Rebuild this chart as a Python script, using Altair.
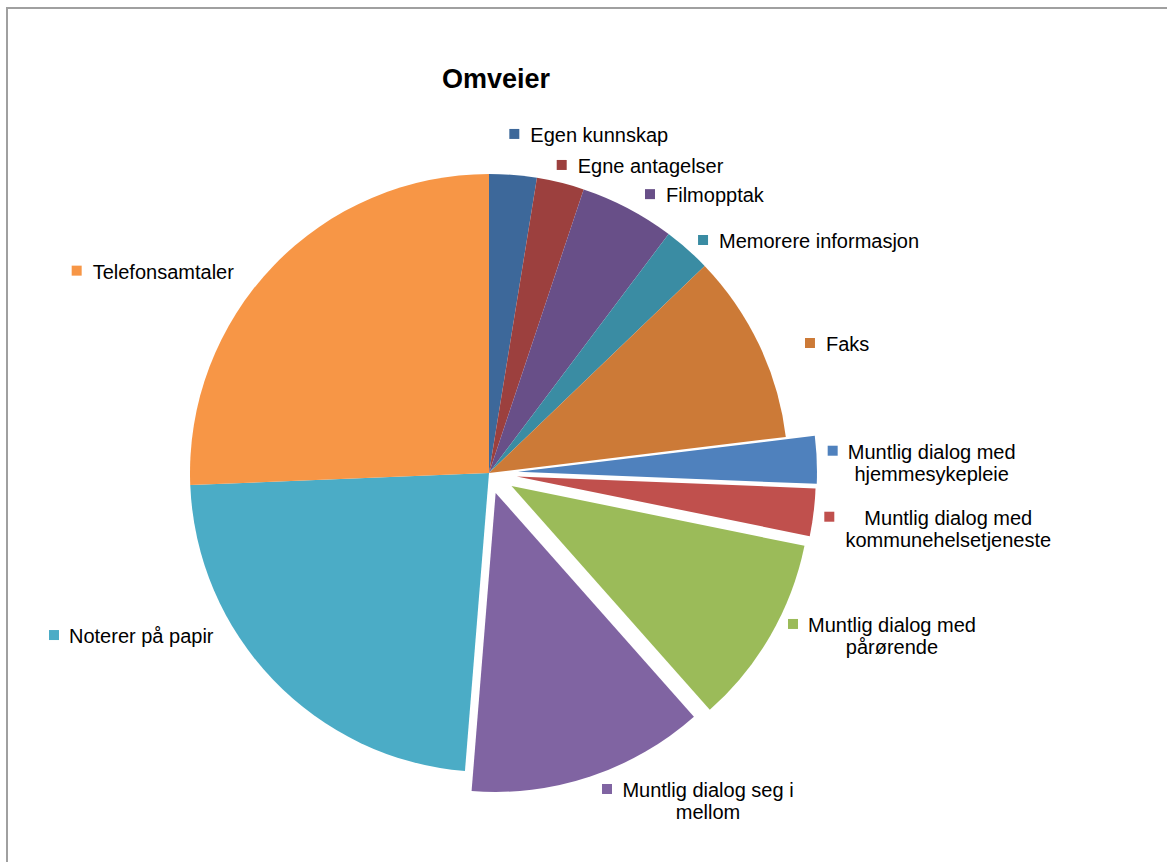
import altair as alt
import pandas as pd

# ---- data ----
categories = [
    "Egen kunnskap", "Egne antagelser", "Filmopptak", "Memorere informasjon", "Faks",
    "Muntlig dialog med hjemmesykepleie", "Muntlig dialog med kommunehelsetjeneste",
    "Muntlig dialog med pårørende", "Muntlig dialog seg i mellom",
    "Noterer på papir", "Telefonsamtaler",
]
values = [1, 1, 2, 1, 4, 1, 1, 4, 5, 9, 10]
label_texts = [
    "Egen kunnskap", "Egne antagelser", "Filmopptak", "Memorere informasjon", "Faks",
    "Muntlig dialog med\nhjemmesykepleie", "Muntlig dialog med\nkommunehelsetjeneste",
    "Muntlig dialog med\npårørende", "Muntlig dialog seg i\nmellom",
    "Noterer på papir", "Telefonsamtaler",
]
colors = [
    "#3d689a", "#9c403e", "#684f88", "#3a8ca3", "#cc7a37",
    "#4f81bd", "#c0504d", "#9bbb59", "#8064a2", "#4bacc6", "#f79646",
]

# ---- styling / layout ----
CX, CY, R = 489, 473, 299
explode = {  # pixels each slice is pulled out
    "Muntlig dialog med hjemmesykepleie": 29,
    "Muntlig dialog med kommunehelsetjeneste": 28,
    "Muntlig dialog med pårørende": 26,
    "Muntlig dialog seg i mellom": 21,
}
# label marker placement: (angle in degrees clockwise from top, radius, text offset)
label_layout = {
    "Egen kunnskap": (4.27, 340, 16),
    "Egne antagelser": (13.28, 316.5, 16),
    "Filmopptak": (30.0, 322, 16),
    "Memorere informasjon": (42.57, 316.4, 16),
    "Faks": (67.95, 346.3, 16),
    "Muntlig dialog med hjemmesykepleie": (86.29, 344.4, 99),
    "Muntlig dialog med kommunehelsetjeneste": (97.32, 343.1, 119),
    "Muntlig dialog med pårørende": (116.41, 339.4, 99),
    "Muntlig dialog seg i mellom": (159.52, 337.3, 101),
    "Noterer på papir": (249.57, 464.2, 15),
    "Telefonsamtaler": (296.14, 459.3, 16),
}

FONT = "Liberation Sans"
FS = 20

df = pd.DataFrame({
    "order": list(range(len(categories))),
    "category": categories,
    "value": values,
    "label": label_texts,
    "explode": [explode.get(c, 0) for c in categories],
    "la": [label_layout[c][0] for c in categories],
    "lr": [label_layout[c][1] for c in categories],
    "tdx": [label_layout[c][2] for c in categories],
    "multi": ["\n" in t for t in label_texts],
})

color = alt.Color("category:N", scale=alt.Scale(domain=categories, range=colors), legend=None)

base = (
    alt.Chart(df)
    .transform_window(cum="sum(value)", sort=[{"field": "order"}], frame=[None, 0])
    .transform_joinaggregate(total="sum(value)")
    .transform_calculate(
        a0="2*PI*(datum.cum-datum.value)/datum.total",
        a1="2*PI*datum.cum/datum.total",
    )
    .transform_calculate(mid="(datum.a0+datum.a1)/2")
    .transform_calculate(
        cx=f"{CX}+datum.explode*sin(datum.mid)",
        cy=f"{CY}-datum.explode*cos(datum.mid)",
        mx=f"{CX}+datum.lr*sin(datum.la*PI/180)",
        my=f"{CY}-datum.lr*cos(datum.la*PI/180)",
    )
    .transform_calculate(tx="datum.mx+datum.tdx", ty="datum.my+8")
)

arcs = base.mark_arc(radius=R).encode(
    x=alt.X("cx:Q", scale=None, axis=None),
    y=alt.Y("cy:Q", scale=None, axis=None),
    theta=alt.Theta("a0:Q", scale=None, stack=None),
    theta2="a1:Q",
    color=color,
)

markers = base.mark_square(size=100, opacity=1).encode(
    x=alt.X("mx:Q", scale=None, axis=None),
    y=alt.Y("my:Q", scale=None, axis=None),
    color=color,
)

single = base.transform_filter("!datum.multi").mark_text(
    align="left", baseline="alphabetic", font=FONT, fontSize=FS, color="#000000"
).encode(
    x=alt.X("tx:Q", scale=None, axis=None),
    y=alt.Y("ty:Q", scale=None, axis=None),
    text="label:N",
)

multi = base.transform_filter("datum.multi").mark_text(
    align="center", baseline="alphabetic", font=FONT, fontSize=FS, color="#000000",
    lineBreak="\n", lineHeight=22,
).encode(
    x=alt.X("tx:Q", scale=None, axis=None),
    y=alt.Y("ty:Q", scale=None, axis=None),
    text="label:N",
)

title = alt.Chart(pd.DataFrame({"t": ["Omveier"]})).mark_text(
    align="center", baseline="alphabetic", font=FONT, fontSize=27, fontWeight="bold", color="#000000"
).encode(x=alt.value(496), y=alt.value(88), text="t:N")

border = alt.Chart(pd.DataFrame({"k": [0]})).mark_rect(
    fill="#ffffff", fillOpacity=0, stroke="#a0a0a0", strokeWidth=2
).encode(x=alt.value(7), y=alt.value(8), x2=alt.value(1180), y2=alt.value(880))

chart = (
    alt.layer(border, arcs, markers, single, multi, title)
    .properties(width=1167, height=862, autosize=alt.AutoSizeParams(type="none"), padding=0, background="white")
    .configure_view(stroke=None)
)

chart.save("out.html", embed_options={"renderer": "svg", "actions": False})
